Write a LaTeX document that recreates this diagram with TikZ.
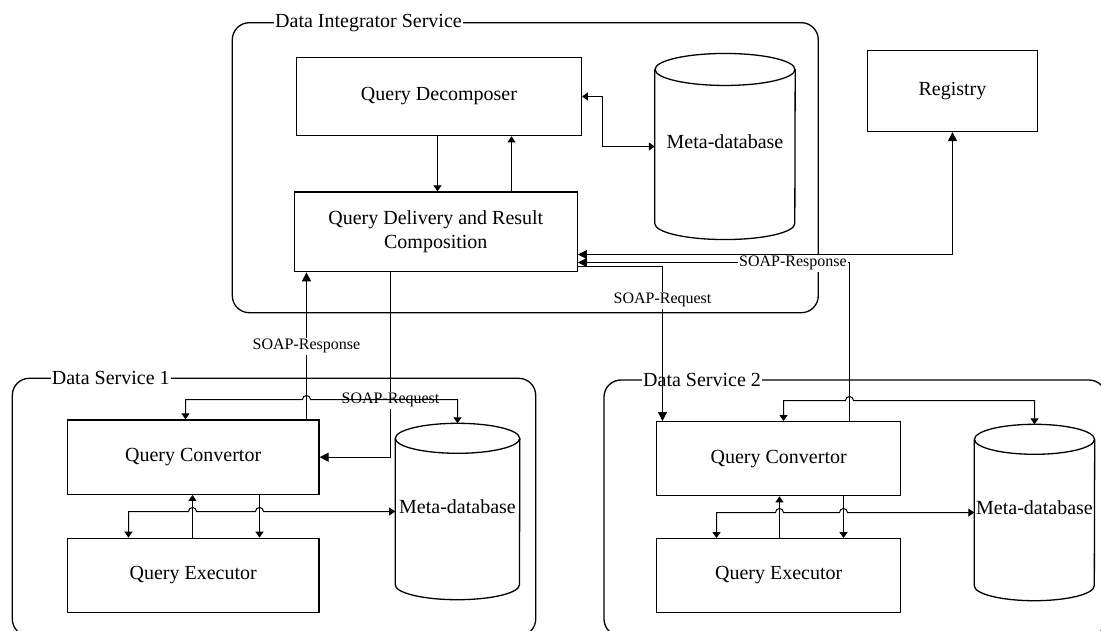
\documentclass[tikz,border=0pt]{standalone}
\usepackage{fontspec}
\setmainfont{Liberation Serif}
\usetikzlibrary{arrows.meta,calc}
\newcommand{\drawdb}[3]{%
  \draw[dbline] ($(#1.north)+(0,#3)$) ellipse[x radius=#2pt, y radius=#3pt];
  \draw[dbline] ($(#1.north west)+(0,#3)$) -- ($(#1.south west)+(0,-#3)$)
    arc[start angle=180, end angle=360, x radius=#2pt, y radius=#3pt]
    -- ($(#1.north east)+(0,#3)$);
}
\begin{document}
\begin{tikzpicture}[x=1pt,y=-1pt,
  every node/.style={font=\fontsize{20}{24}\selectfont},
  boxnode/.style={draw, line width=1.3pt, rectangle, inner sep=2pt, align=center},
  dbnode/.style={rectangle, inner sep=0pt, align=center, text height=14pt, text depth=10pt},
  dbline/.style={line width=1.3pt},
  container/.style={draw, line width=1.3pt, rounded corners=17pt, rectangle},
  grouplabel/.style={fill=white, inner sep=1pt, anchor=west, font=\fontsize{20}{24}\selectfont},
  soaplabel/.style={fill=white, inner sep=1.5pt, font=\fontsize{16}{19}\selectfont},
  conn/.style={line width=1pt},
  endS/.style={-{Triangle[length=6pt,width=8pt]}},
  bothS/.style={{Triangle[length=6pt,width=8pt]}-{Triangle[length=6pt,width=8pt]}},
  endB/.style={-{Triangle[length=9pt,width=9pt]}},
  bothB/.style={{Triangle[length=9pt,width=9pt]}-{Triangle[length=9pt,width=9pt]}}
]
\path[fill=white, use as bounding box] (0,0) rectangle (1101,630);

% containers
\node[container, minimum width=586pt, minimum height=290pt] (dis) at (525.3,167.7) {};
\node[container, minimum width=523.4pt, minimum height=257.7pt] (ds1) at (274,507.15) {};
\node[container, minimum width=502pt, minimum height=256pt] (ds2) at (855,508) {};
\node[grouplabel] (ldis) at (274,22.7) {Data Integrator Service};
\node[grouplabel] (lds1) at (50.7,378.3) {Data Service 1};
\node[grouplabel] (lds2) at (642,380) {Data Service 2};

% boxes
\node[boxnode, minimum width=284.6pt, minimum height=78.3pt] (qdec) at (439,96.5) {Query Decomposer};
\node[boxnode, minimum width=283pt, minimum height=79.7pt] (qd) at (435.8,231.85) {Query Delivery and Result\\Composition};
\node[boxnode, minimum width=170pt, minimum height=81pt] (reg) at (952.5,91) {Registry};
\node[boxnode, minimum width=251.7pt, minimum height=74.3pt] (qc1) at (193.15,457.15) {Query Convertor};
\node[boxnode, minimum width=251.7pt, minimum height=74pt] (qe1) at (193.15,575.3) {Query Executor};
\node[boxnode, minimum width=244pt, minimum height=74pt] (qc2) at (778.7,458.7) {Query Convertor};
\node[boxnode, minimum width=244pt, minimum height=73.6pt] (qe2) at (778.7,575.5) {Query Executor};

% databases
\node[dbnode, minimum width=140pt, minimum height=185.7pt] (md0) at (725,146.5) {Meta-database};
\node[dbnode, minimum width=124.3pt, minimum height=176pt] (md1) at (457.5,511.5) {Meta-database};
\node[dbnode, minimum width=120pt, minimum height=176pt] (md2) at (1034.5,512.5) {Meta-database};
\drawdb{md0}{70}{16}
\drawdb{md1}{62.15}{15}
\drawdb{md2}{60}{15}

% integrator connectors
\draw[conn, bothS] (qdec.east) -- (602.5,0 |- qdec.east) |- (md0.west);
\draw[conn, endS] (437.5,0 |- qdec.south) -- (437.5,0 |- qd.north);
\draw[conn, endS] (511.5,0 |- qd.north) -- (511.5,0 |- qdec.south);
\draw[conn, bothB] (qd.east |- 0,254.5) -| (reg.south);
\draw[conn, endB] (849.5,0 |- qc2.north) |- (qd.east |- 0,262.5);
\draw[conn, endB] (qd.east |- 0,266.5) -| (662.5,0 |- qc2.north);
\node[soaplabel] (lresp2) at (793,263) {SOAP-Response};
\node[soaplabel] (lreq2) at (662.5,300) {SOAP-Request};

% data service 1
\draw[conn, endB] (306.5,0 |- qc1.north) -- (306.5,0 |- qd.south);
\node[soaplabel] (lresp1) at (306.5,346) {SOAP-Response};
\draw[conn, endB] (390.5,0 |- qd.south) |- (qc1.east);
\node[soaplabel] (lreq1) at (390.5,400) {SOAP-Request};
\draw[conn, bothS] (185.5,0 |- qc1.north) -- (185.5,399.5) -- (302.5,399.5)
  arc[start angle=180, end angle=0, radius=4pt] -- (md1.north |- 0,399.5) -- (md1.north);
\draw[conn, bothS] (128.5,0 |- qe1.north) -- (128.5,511.5) -- (188.5,511.5)
  arc[start angle=180, end angle=0, radius=4pt] -- (255.5,511.5)
  arc[start angle=180, end angle=0, radius=4pt] -- (md1.west);
\draw[conn, endS] (192.5,0 |- qe1.north) -- (192.5,0 |- qc1.south);
\draw[conn, endS] (259.5,0 |- qc1.south) -- (259.5,0 |- qe1.north);

% data service 2
\draw[conn, bothS] (783.5,0 |- qc2.north) -- (783.5,400.5) -- (845.5,400.5)
  arc[start angle=180, end angle=0, radius=4pt] -- (md2.north |- 0,400.5) -- (md2.north);
\draw[conn, bothS] (716.5,0 |- qe2.north) -- (716.5,512.5) -- (775.5,512.5)
  arc[start angle=180, end angle=0, radius=4pt] -- (839.5,512.5)
  arc[start angle=180, end angle=0, radius=4pt] -- (md2.west);
\draw[conn, endS] (779.5,0 |- qe2.north) -- (779.5,0 |- qc2.south);
\draw[conn, endS] (843.5,0 |- qc2.south) -- (843.5,0 |- qe2.north);
\end{tikzpicture}
\end{document}
